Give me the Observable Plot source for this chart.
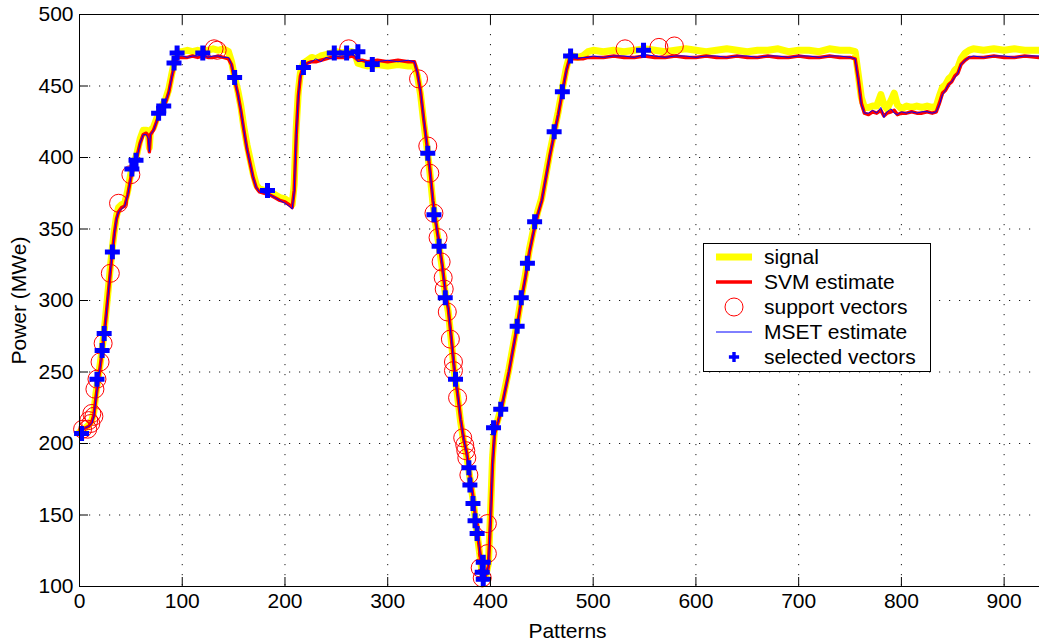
<!DOCTYPE html>
<html><head><meta charset="utf-8">
<script src="https://cdn.jsdelivr.net/npm/d3@7"></script>
<script src="https://cdn.jsdelivr.net/npm/@observablehq/plot@0.6"></script>
<style>
html,body{margin:0;padding:0;background:#fff;overflow:hidden;width:1039px;height:644px;}
#chart{position:relative;width:1039px;height:644px;overflow:hidden;}
#chart svg{display:block;max-width:none !important;height:644px !important;}
</style></head><body><div id="chart"></div>
<script>
// [pattern, power (MWe)]
const signal = [[0,208],[3,209],[6,211],[9,213],[12,216],[14,222],[16,235],[18,245],[20,255],[22,266],[24,278],[26,293],[28,308],[30,323],[32,337],[34,349],[36,359],[38,365],[41,367],[44,368],[47,377],[50,389],[53,396],[56,403],[59,413],[62,419],[65,419],[67,417],[68,407],[69,419],[72,421],[75,427],[78,433],[81,437],[84,441],[87,448],[90,459],[93,469],[96,474],[100,474],[105,475],[110,474],[115,475],[120,474],[125,475],[130,476],[135,475],[140,476],[145,474],[148,467],[151,456],[154,447],[157,436],[160,421],[163,409],[166,399],[169,389],[172,381],[175,378],[180,377],[185,376],[190,374],[195,372],[200,371],[204,369],[207,367],[209,381],[211,421],[213,446],[215,459],[218,466],[222,468],[226,470],[230,469],[235,471],[240,472],[245,473],[250,474],[255,473],[260,474],[265,474],[268,473],[271,466],[275,465],[280,464],[290,465],[300,464],[310,465],[320,464],[326,464],[329,457],[332,444],[335,425],[338,408],[341,390],[344,368],[347,352],[350,338],[353,323],[356,305],[359,292],[362,271],[365,249],[368,233],[371,215],[374,201],[377,191],[380,176],[383,161],[386,143],[389,126],[392,109],[395,106],[398,116],[400,150],[402,190],[404,210],[407,216],[410,224],[414,238],[418,252],[422,268],[426,284],[430,302],[434,318],[438,336],[442,350],[446,362],[450,372],[454,388],[458,404],[462,418],[466,432],[470,448],[474,463],[477,471],[480,471],[485,470],[490,471],[495,474],[500,475],[510,474],[520,475],[530,474],[540,475],[550,476],[560,475],[570,474],[580,475],[590,476],[600,475],[610,474],[620,475],[630,476],[640,475],[650,474],[660,475],[670,475],[680,476],[690,474],[700,475],[710,475],[720,474],[730,476],[740,475],[750,475],[755,474],[758,458],[761,442],[764,435],[768,435],[772,436],[776,436],[780,444],[783,437],[786,434],[790,440],[793,445],[796,437],[800,434],[805,436],[810,435],[815,436],[820,435],[825,436],[830,435],[834,436],[837,443],[840,449],[843,451],[846,455],[849,457],[852,461],[855,463],[858,469],[862,473],[866,475],[870,476],[880,475],[890,476],[900,475],[910,476],[920,475],[934,475]];

const svmEstimate = [[0,208],[3,210],[6,211],[9,212],[12,215],[14,220],[16,232],[18,243],[20,253],[22,264],[24,276],[26,290],[28,305],[30,320],[32,334],[34,347],[36,357],[38,362],[41,365],[44,366],[47,374],[50,386],[53,394],[56,401],[59,410],[62,416],[65,417],[67,415],[68,404],[69,416],[72,419],[75,425],[78,431],[81,435],[84,439],[87,446],[90,457],[93,466],[96,470],[100,470],[105,470],[110,471],[115,470],[120,471],[125,470],[130,470],[135,471],[140,470],[145,469],[148,465],[151,454],[154,445],[157,433],[160,419],[163,406],[166,396],[169,386],[172,379],[175,376],[180,375],[185,374],[190,372],[195,370],[200,369],[204,367],[207,365],[209,377],[211,416],[213,443],[215,457],[218,464],[222,466],[226,467],[230,467],[235,468],[240,469],[245,470],[250,470],[255,470],[260,470],[265,471],[268,470],[271,468],[275,468],[280,467],[290,468],[300,467],[310,468],[320,467],[326,467],[329,459],[332,446],[335,427],[338,410],[341,392],[344,370],[347,354],[350,340],[353,325],[356,307],[359,294],[362,273],[365,251],[368,235],[371,217],[374,203],[377,193],[380,178],[383,163],[386,145],[389,128],[392,111],[395,107],[398,114],[400,146],[402,185],[404,207],[407,214],[410,222],[414,236],[418,250],[422,266],[426,282],[430,300],[434,316],[438,334],[442,348],[446,360],[450,370],[454,386],[458,402],[462,416],[466,430],[470,446],[474,461],[477,469],[480,469],[485,469],[490,469],[495,470],[500,470],[510,470],[520,471],[530,470],[540,470],[550,471],[560,470],[570,470],[580,471],[590,470],[600,470],[610,471],[620,470],[630,470],[640,471],[650,470],[660,470],[670,471],[680,470],[690,470],[700,471],[710,470],[720,470],[730,471],[740,470],[750,470],[755,469],[758,455],[761,438],[764,431],[768,430],[772,432],[776,431],[780,433],[783,429],[786,431],[790,432],[793,433],[796,430],[800,431],[805,431],[810,432],[815,431],[820,431],[825,432],[830,431],[834,432],[837,438],[840,445],[843,447],[846,451],[849,453],[852,457],[855,459],[858,465],[862,468],[866,470],[870,470],[880,470],[890,471],[900,470],[910,470],[920,471],[934,470]];

const msetEstimate = [[0,207],[3,209],[6,211],[9,212],[12,214],[14,219],[16,231],[18,243],[20,253],[22,264],[24,276],[26,290],[28,305],[30,320],[32,334],[34,347],[36,357],[38,362],[41,364],[44,366],[47,374],[50,386],[53,394],[56,400],[59,410],[62,416],[65,416],[67,413],[68,404],[69,416],[72,419],[75,425],[78,431],[81,435],[84,439],[87,446],[90,457],[93,467],[96,471],[100,471],[105,470],[110,471],[115,471],[120,472],[125,470],[130,471],[135,471],[140,470],[145,470],[148,465],[151,454],[154,445],[157,433],[160,419],[163,406],[166,396],[169,386],[172,379],[175,376],[180,375],[185,374],[190,372],[195,370],[200,368],[204,366],[207,364],[209,376],[211,416],[213,443],[215,457],[218,463],[222,466],[226,467],[230,469],[235,467],[240,470],[245,469],[250,471],[255,470],[260,471],[265,472],[268,471],[271,467],[275,468],[280,467],[290,467],[300,468],[310,467],[320,468],[326,467],[329,459],[332,446],[335,427],[338,410],[341,392],[344,370],[347,354],[350,340],[353,325],[356,307],[359,294],[362,273],[365,251],[368,235],[371,217],[374,203],[377,193],[380,178],[383,163],[386,145],[389,128],[392,111],[395,107],[398,114],[400,146],[402,185],[404,207],[407,214],[410,222],[414,236],[418,250],[422,266],[426,282],[430,300],[434,316],[438,334],[442,348],[446,360],[450,370],[454,386],[458,402],[462,416],[466,430],[470,446],[474,461],[477,469],[480,470],[485,469],[490,470],[495,470],[500,471],[510,470],[520,471],[530,471],[540,470],[550,472],[560,471],[570,470],[580,471],[590,471],[600,470],[610,471],[620,471],[630,470],[640,471],[650,471],[660,470],[670,471],[680,471],[690,470],[700,471],[710,471],[720,470],[730,471],[740,471],[750,470],[755,469],[758,454],[761,437],[764,431],[768,431],[772,433],[776,431],[780,435],[783,428],[786,432],[790,434],[793,431],[796,430],[800,432],[805,431],[810,432],[815,431],[820,432],[825,432],[830,431],[834,432],[837,437],[840,444],[843,447],[846,451],[849,453],[852,456],[855,459],[858,465],[862,468],[866,470],[870,471],[880,470],[890,471],[900,471],[910,470],[920,471],[934,471]];

const supportVectors = [[3,210],[8,210],[9,216],[11,214],[12,221],[14,219],[15,238],[17,245],[20,257],[23,270],[30,319],[38,368],[50,388],[131,476],[134,475],[262,476],[330,455],[339,408],[341,389],[345,361],[349,344],[352,327],[354,316],[355,308],[358,292],[361,273],[364,257],[364,251],[368,232],[373,204],[375,199],[376,195],[377,190],[379,178],[390,113],[392,106],[397,144],[397,123],[531,476],[564,477],[579,478]];

const selectedVectors = [[2,207],[17,245],[22,265],[24,277],[32,334],[51,392],[55,398],[77,431],[82,436],[92,466],[95,473],[120,473],[151,456],[183,377],[218,463],[248,473],[260,473],[271,474],[285,465],[339,403],[345,360],[350,338],[356,302],[366,245],[379,183],[380,171],[383,158],[385,146],[387,137],[392,110],[393,117],[393,105],[403,211],[410,224],[426,282],[430,302],[436,326],[443,355],[462,418],[470,446],[478,471],[549,475]];

const xTicks = [0,100,200,300,400,500,600,700,800,900];
const yTicks = [100,150,200,250,300,350,400,450,500];
const legendLabels = ["signal","SVM estimate","support vectors","MSET estimate","selected vectors"];

const FONT = "'Liberation Sans', Arial, Helvetica, sans-serif";
const px = d => d[0], py = d => d[1];
const grid = {stroke: "#000", strokeOpacity: 0.9, strokeWidth: 1, strokeDasharray: "1.2,8.8"};

const chart = Plot.plot({
  width: 1056, height: 644,
  marginLeft: 79, marginRight: 1, marginTop: 14, marginBottom: 58,
  style: {fontFamily: FONT, fontSize: "21px", background: "#fff", color: "#000", maxWidth: "none"},
  x: {domain: [0, 950]},
  y: {domain: [100, 500]},
  marks: [
    Plot.gridX(xTicks, grid),
    Plot.gridY(yTicks, grid),
    Plot.line(signal, {x: px, y: py, stroke: "#ffff00", strokeWidth: 7}),
    Plot.line(svmEstimate, {x: px, y: py, stroke: "#ff0000", strokeWidth: 3.5}),
    Plot.dot(supportVectors, {x: px, y: py, r: 9, stroke: "#ff0000", strokeWidth: 1, fill: "none"}),
    Plot.line(msetEstimate, {x: px, y: py, stroke: "#0000ff", strokeWidth: 1}),
    Plot.dot(selectedVectors, {x: px, y: py, symbol: "cross", r: 6.3, fill: "#0000ff", stroke: "none"}),
    Plot.frame({stroke: "#000", strokeWidth: 1}),
    Plot.axisX(xTicks, {anchor: "bottom", tickSize: -9, tickPadding: 16, fontSize: 21, label: "Patterns", labelAnchor: "center", labelOffset: 51, labelArrow: "none"}),
    Plot.axisX(xTicks, {anchor: "top", tickSize: -9, tickFormat: () => "", label: null}),
    Plot.axisY(yTicks, {anchor: "left", tickSize: -9, tickPadding: 15, fontSize: 21, label: "Power (MWe)", labelAnchor: "center", labelOffset: 68, labelArrow: "none"})
  ]
});

// legend box drawn inside the svg
const svg = d3.select(chart);
const lg = svg.append("g").attr("font-family", FONT).attr("font-size", 21).attr("text-anchor", "start");
lg.append("rect").attr("x", 703.5).attr("y", 243.5).attr("width", 227).attr("height", 128)
  .attr("fill", "#fff").attr("stroke", "#000").attr("stroke-width", 1);
const rowY = i => 257 + i * 25;
lg.append("line").attr("x1", 716).attr("x2", 752).attr("y1", rowY(0)).attr("y2", rowY(0)).attr("stroke", "#ffff00").attr("stroke-width", 7);
lg.append("line").attr("x1", 716).attr("x2", 752).attr("y1", rowY(1)).attr("y2", rowY(1)).attr("stroke", "#ff0000").attr("stroke-width", 3.5);
lg.append("circle").attr("cx", 734).attr("cy", rowY(2)).attr("r", 9).attr("fill", "none").attr("stroke", "#ff0000").attr("stroke-width", 1);
lg.append("line").attr("x1", 716).attr("x2", 752).attr("y1", rowY(3)).attr("y2", rowY(3)).attr("stroke", "#0000ff").attr("stroke-width", 1);
lg.append("path").attr("transform", `translate(734,${rowY(4)})`).attr("d", d3.symbol(d3.symbolCross, Math.PI * 4.3 * 4.3)()).attr("fill", "#0000ff");
legendLabels.forEach((t, i) => {
  lg.append("text").attr("x", 764).attr("y", rowY(i)).attr("dy", "0.35em").attr("fill", "#000").text(t);
});

document.getElementById("chart").appendChild(chart);
</script>
</body></html>
